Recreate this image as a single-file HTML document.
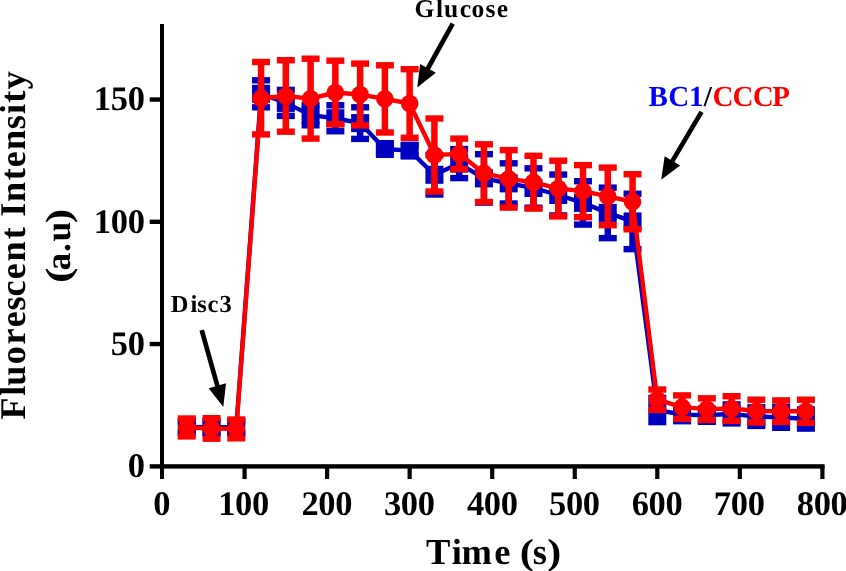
<!DOCTYPE html>
<html><head><meta charset="utf-8"><style>html,body{margin:0;padding:0;background:#fff;width:846px;height:571px;overflow:hidden}svg{display:block;will-change:transform}text{text-rendering:geometricPrecision}</style></head>
<body><svg width="846" height="571" viewBox="0 0 846 571">
<rect x="160" y="24" width="4" height="455" fill="#000"/>
<rect x="149.7" y="464.2" width="674.9" height="4.4" fill="#000"/>
<rect x="149.7" y="341.85" width="12" height="4.4" fill="#000"/>
<rect x="149.7" y="219.60" width="12" height="4.4" fill="#000"/>
<rect x="149.7" y="97.35" width="12" height="4.4" fill="#000"/>
<rect x="242.45" y="466" width="4.2" height="13" fill="#000"/>
<rect x="325.00" y="466" width="4.2" height="13" fill="#000"/>
<rect x="407.55" y="466" width="4.2" height="13" fill="#000"/>
<rect x="490.10" y="466" width="4.2" height="13" fill="#000"/>
<rect x="572.65" y="466" width="4.2" height="13" fill="#000"/>
<rect x="655.20" y="466" width="4.2" height="13" fill="#000"/>
<rect x="737.75" y="466" width="4.2" height="13" fill="#000"/>
<rect x="820.30" y="466" width="4.2" height="13" fill="#000"/>
<text x="153.18" y="515.10" font-family="Liberation Serif, serif" font-weight="bold" font-size="34.5">0</text>
<text x="218.14 235.04 251.94" y="515.10" font-family="Liberation Serif, serif" font-weight="bold" font-size="34.5">100</text>
<text x="301.38 318.28 335.18" y="515.10" font-family="Liberation Serif, serif" font-weight="bold" font-size="34.5">200</text>
<text x="383.93 400.82 417.73" y="515.10" font-family="Liberation Serif, serif" font-weight="bold" font-size="34.5">300</text>
<text x="466.91 483.81 500.71" y="515.10" font-family="Liberation Serif, serif" font-weight="bold" font-size="34.5">400</text>
<text x="549.02 565.92 582.82" y="515.10" font-family="Liberation Serif, serif" font-weight="bold" font-size="34.5">500</text>
<text x="631.66 648.56 665.46" y="515.10" font-family="Liberation Serif, serif" font-weight="bold" font-size="34.5">600</text>
<text x="713.87 730.77 747.67" y="515.10" font-family="Liberation Serif, serif" font-weight="bold" font-size="34.5">700</text>
<text x="796.76 813.66 830.56" y="515.10" font-family="Liberation Serif, serif" font-weight="bold" font-size="34.5">800</text>
<text x="127.63" y="477.05" font-family="Liberation Serif, serif" font-weight="bold" font-size="34.5">0</text>
<text x="110.73 127.63" y="354.80" font-family="Liberation Serif, serif" font-weight="bold" font-size="34.5">50</text>
<text x="93.83 110.73 127.63" y="232.55" font-family="Liberation Serif, serif" font-weight="bold" font-size="34.5">100</text>
<text x="93.83 110.73 127.63" y="110.30" font-family="Liberation Serif, serif" font-weight="bold" font-size="34.5">150</text>
<text x="425.91 451.65 461.42 494.35 532.64" y="563.50" font-family="Liberation Serif, serif" font-weight="bold" font-size="36.5" fill="#000">Times</text>
<text transform="translate(527.00,0) scale(1.160,1)" x="-6.30" y="563.50" font-family="Liberation Serif, serif" font-weight="bold" font-size="36.5" fill="#000">(</text>
<text transform="translate(553.95,0) scale(1.149,1)" x="-5.84" y="563.50" font-family="Liberation Serif, serif" font-weight="bold" font-size="36.5" fill="#000">)</text>
<text x="-419.50 -395.87 -385.81 -364.20 -344.50 -327.24 -310.60 -296.39 -279.19 -261.43 -239.14 -216.71 -202.08 -180.29 -167.29 -149.93 -129.15 -114.06 -102.84 -89.30" y="24.80" font-family="Liberation Serif, serif" font-weight="bold" font-size="36.2" fill="#000" transform="rotate(-90) translate(0,24.80) scale(1,1.0) translate(0,-24.80)">FluorescentIntensity</text>
<text x="-270.54 -252.09 -241.52" y="69.50" font-family="Liberation Serif, serif" font-weight="bold" font-size="35.5" fill="#000" transform="rotate(-90) translate(0,69.50) scale(1,1.0) translate(0,-69.50)">a.u</text>
<text transform="rotate(-90) translate(-275.10,0) scale(1.304,1)" x="-6.12" y="69.50" font-family="Liberation Serif, serif" font-weight="bold" font-size="35.5" fill="#000">(</text>
<text transform="rotate(-90) translate(-216.35,0) scale(1.224,1)" x="-5.68" y="69.50" font-family="Liberation Serif, serif" font-weight="bold" font-size="35.5" fill="#000">)</text>
<text x="414.50 435.88 444.00 459.80 471.43 485.61 496.75" y="17.30" font-family="Liberation Serif, serif" font-weight="bold" font-size="25.5" fill="#000">Glucose</text>
<text x="170.74 190.41 197.36 207.38 219.56" y="312.20" font-family="Liberation Serif, serif" font-weight="bold" font-size="24.5" fill="#000">Disc3</text>
<text x="648.50 668.27 689.07" y="105.50" font-family="Liberation Serif, serif" font-weight="bold" font-size="29" fill="#0000ff">BC1</text>
<text x="703.66" y="105.50" font-family="Liberation Serif, serif" font-weight="bold" font-size="29" fill="#000">/</text>
<text x="712.47 732.57 752.67 772.37" y="105.50" font-family="Liberation Serif, serif" font-weight="bold" font-size="29" fill="#ff0000">CCCP</text>
<line x1="452.70" y1="23.70" x2="427.00" y2="70.01" stroke="#000" stroke-width="4.7"/><polygon points="417.30,87.50 420.10,63.90 435.84,72.63" fill="#000"/>
<line x1="201.70" y1="330.10" x2="217.89" y2="387.65" stroke="#000" stroke-width="4.7"/><polygon points="223.30,406.90 208.68,388.16 226.01,383.28" fill="#000"/>
<line x1="701.50" y1="111.90" x2="671.41" y2="162.60" stroke="#000" stroke-width="4.7"/><polygon points="661.20,179.80 664.69,156.29 680.17,165.47" fill="#000"/>
<rect x="183.51" y="421.00" width="6.5" height="12.00" fill="#0000c0"/>
<rect x="177.76" y="417.80" width="18.0" height="6.4" fill="#0000c0"/>
<rect x="177.76" y="429.80" width="18.0" height="6.4" fill="#0000c0"/>
<rect x="208.28" y="421.20" width="6.5" height="12.00" fill="#0000c0"/>
<rect x="202.53" y="418.00" width="18.0" height="6.4" fill="#0000c0"/>
<rect x="202.53" y="430.00" width="18.0" height="6.4" fill="#0000c0"/>
<rect x="233.05" y="421.20" width="6.5" height="12.00" fill="#0000c0"/>
<rect x="227.30" y="418.00" width="18.0" height="6.4" fill="#0000c0"/>
<rect x="227.30" y="430.00" width="18.0" height="6.4" fill="#0000c0"/>
<rect x="257.81" y="80.30" width="6.5" height="27.00" fill="#0000c0"/>
<rect x="252.06" y="77.10" width="18.0" height="6.4" fill="#0000c0"/>
<rect x="252.06" y="104.10" width="18.0" height="6.4" fill="#0000c0"/>
<rect x="282.57" y="89.90" width="6.5" height="26.00" fill="#0000c0"/>
<rect x="276.82" y="86.70" width="18.0" height="6.4" fill="#0000c0"/>
<rect x="276.82" y="112.70" width="18.0" height="6.4" fill="#0000c0"/>
<rect x="307.34" y="105.00" width="6.5" height="20.30" fill="#0000c0"/>
<rect x="301.59" y="101.80" width="18.0" height="6.4" fill="#0000c0"/>
<rect x="301.59" y="122.10" width="18.0" height="6.4" fill="#0000c0"/>
<rect x="332.11" y="105.25" width="6.5" height="26.00" fill="#0000c0"/>
<rect x="326.36" y="102.05" width="18.0" height="6.4" fill="#0000c0"/>
<rect x="326.36" y="128.05" width="18.0" height="6.4" fill="#0000c0"/>
<rect x="356.87" y="107.30" width="6.5" height="31.60" fill="#0000c0"/>
<rect x="351.12" y="104.10" width="18.0" height="6.4" fill="#0000c0"/>
<rect x="351.12" y="135.70" width="18.0" height="6.4" fill="#0000c0"/>
<rect x="381.63" y="145.00" width="6.5" height="8.00" fill="#0000c0"/>
<rect x="375.88" y="141.80" width="18.0" height="6.4" fill="#0000c0"/>
<rect x="375.88" y="149.80" width="18.0" height="6.4" fill="#0000c0"/>
<rect x="406.40" y="145.60" width="6.5" height="10.00" fill="#0000c0"/>
<rect x="400.65" y="142.40" width="18.0" height="6.4" fill="#0000c0"/>
<rect x="400.65" y="152.40" width="18.0" height="6.4" fill="#0000c0"/>
<rect x="431.17" y="155.10" width="6.5" height="39.40" fill="#0000c0"/>
<rect x="425.42" y="151.90" width="18.0" height="6.4" fill="#0000c0"/>
<rect x="425.42" y="191.30" width="18.0" height="6.4" fill="#0000c0"/>
<rect x="455.93" y="149.10" width="6.5" height="29.00" fill="#0000c0"/>
<rect x="450.18" y="145.90" width="18.0" height="6.4" fill="#0000c0"/>
<rect x="450.18" y="174.90" width="18.0" height="6.4" fill="#0000c0"/>
<rect x="480.69" y="154.20" width="6.5" height="48.40" fill="#0000c0"/>
<rect x="474.94" y="151.00" width="18.0" height="6.4" fill="#0000c0"/>
<rect x="474.94" y="199.40" width="18.0" height="6.4" fill="#0000c0"/>
<rect x="505.46" y="163.30" width="6.5" height="40.20" fill="#0000c0"/>
<rect x="499.71" y="160.10" width="18.0" height="6.4" fill="#0000c0"/>
<rect x="499.71" y="200.30" width="18.0" height="6.4" fill="#0000c0"/>
<rect x="530.23" y="168.30" width="6.5" height="39.40" fill="#0000c0"/>
<rect x="524.48" y="165.10" width="18.0" height="6.4" fill="#0000c0"/>
<rect x="524.48" y="204.50" width="18.0" height="6.4" fill="#0000c0"/>
<rect x="554.99" y="174.55" width="6.5" height="40.90" fill="#0000c0"/>
<rect x="549.24" y="171.35" width="18.0" height="6.4" fill="#0000c0"/>
<rect x="549.24" y="212.25" width="18.0" height="6.4" fill="#0000c0"/>
<rect x="579.75" y="181.20" width="6.5" height="43.40" fill="#0000c0"/>
<rect x="574.00" y="178.00" width="18.0" height="6.4" fill="#0000c0"/>
<rect x="574.00" y="221.40" width="18.0" height="6.4" fill="#0000c0"/>
<rect x="604.52" y="187.65" width="6.5" height="50.50" fill="#0000c0"/>
<rect x="598.77" y="184.45" width="18.0" height="6.4" fill="#0000c0"/>
<rect x="598.77" y="234.95" width="18.0" height="6.4" fill="#0000c0"/>
<rect x="629.29" y="193.75" width="6.5" height="55.40" fill="#0000c0"/>
<rect x="623.54" y="190.55" width="18.0" height="6.4" fill="#0000c0"/>
<rect x="623.54" y="245.95" width="18.0" height="6.4" fill="#0000c0"/>
<rect x="654.05" y="397.90" width="6.5" height="24.20" fill="#0000c0"/>
<rect x="648.30" y="394.70" width="18.0" height="6.4" fill="#0000c0"/>
<rect x="648.30" y="418.90" width="18.0" height="6.4" fill="#0000c0"/>
<rect x="678.82" y="408.00" width="6.5" height="13.20" fill="#0000c0"/>
<rect x="673.07" y="404.80" width="18.0" height="6.4" fill="#0000c0"/>
<rect x="673.07" y="418.00" width="18.0" height="6.4" fill="#0000c0"/>
<rect x="703.58" y="408.60" width="6.5" height="13.20" fill="#0000c0"/>
<rect x="697.83" y="405.40" width="18.0" height="6.4" fill="#0000c0"/>
<rect x="697.83" y="418.60" width="18.0" height="6.4" fill="#0000c0"/>
<rect x="728.35" y="404.40" width="6.5" height="19.00" fill="#0000c0"/>
<rect x="722.60" y="401.20" width="18.0" height="6.4" fill="#0000c0"/>
<rect x="722.60" y="420.20" width="18.0" height="6.4" fill="#0000c0"/>
<rect x="753.11" y="407.30" width="6.5" height="18.60" fill="#0000c0"/>
<rect x="747.36" y="404.10" width="18.0" height="6.4" fill="#0000c0"/>
<rect x="747.36" y="422.70" width="18.0" height="6.4" fill="#0000c0"/>
<rect x="777.88" y="406.80" width="6.5" height="21.00" fill="#0000c0"/>
<rect x="772.12" y="403.60" width="18.0" height="6.4" fill="#0000c0"/>
<rect x="772.12" y="424.60" width="18.0" height="6.4" fill="#0000c0"/>
<rect x="802.64" y="409.40" width="6.5" height="19.20" fill="#0000c0"/>
<rect x="796.89" y="406.20" width="18.0" height="6.4" fill="#0000c0"/>
<rect x="796.89" y="425.40" width="18.0" height="6.4" fill="#0000c0"/>
<polyline points="186.76,427.00 211.53,427.20 236.30,427.20 261.06,93.80 285.82,102.90 310.59,115.15 335.36,118.25 360.12,123.10 384.88,149.00 409.65,150.60 434.42,174.80 459.18,163.60 483.94,178.40 508.71,183.40 533.48,188.00 558.24,195.00 583.00,202.90 607.77,212.90 632.54,221.45 657.30,410.00 682.07,414.60 706.83,415.20 731.60,413.90 756.36,416.60 781.12,417.30 805.89,419.00" fill="none" stroke="#0000c0" stroke-width="4.4" stroke-linejoin="round"/>
<rect x="177.76" y="418.00" width="18.0" height="18.0" fill="#0000c0"/>
<rect x="202.53" y="418.20" width="18.0" height="18.0" fill="#0000c0"/>
<rect x="227.30" y="418.20" width="18.0" height="18.0" fill="#0000c0"/>
<rect x="252.06" y="84.80" width="18.0" height="18.0" fill="#0000c0"/>
<rect x="276.82" y="93.90" width="18.0" height="18.0" fill="#0000c0"/>
<rect x="301.59" y="106.15" width="18.0" height="18.0" fill="#0000c0"/>
<rect x="326.36" y="109.25" width="18.0" height="18.0" fill="#0000c0"/>
<rect x="351.12" y="114.10" width="18.0" height="18.0" fill="#0000c0"/>
<rect x="375.88" y="140.00" width="18.0" height="18.0" fill="#0000c0"/>
<rect x="400.65" y="141.60" width="18.0" height="18.0" fill="#0000c0"/>
<rect x="425.42" y="165.80" width="18.0" height="18.0" fill="#0000c0"/>
<rect x="450.18" y="154.60" width="18.0" height="18.0" fill="#0000c0"/>
<rect x="474.94" y="169.40" width="18.0" height="18.0" fill="#0000c0"/>
<rect x="499.71" y="174.40" width="18.0" height="18.0" fill="#0000c0"/>
<rect x="524.48" y="179.00" width="18.0" height="18.0" fill="#0000c0"/>
<rect x="549.24" y="186.00" width="18.0" height="18.0" fill="#0000c0"/>
<rect x="574.00" y="193.90" width="18.0" height="18.0" fill="#0000c0"/>
<rect x="598.77" y="203.90" width="18.0" height="18.0" fill="#0000c0"/>
<rect x="623.54" y="212.45" width="18.0" height="18.0" fill="#0000c0"/>
<rect x="648.30" y="401.00" width="18.0" height="18.0" fill="#0000c0"/>
<rect x="673.07" y="405.60" width="18.0" height="18.0" fill="#0000c0"/>
<rect x="697.83" y="406.20" width="18.0" height="18.0" fill="#0000c0"/>
<rect x="722.60" y="404.90" width="18.0" height="18.0" fill="#0000c0"/>
<rect x="747.36" y="407.60" width="18.0" height="18.0" fill="#0000c0"/>
<rect x="772.12" y="408.30" width="18.0" height="18.0" fill="#0000c0"/>
<rect x="796.89" y="410.00" width="18.0" height="18.0" fill="#0000c0"/>
<rect x="183.51" y="418.50" width="6.5" height="17.90" fill="#ff0000"/>
<rect x="177.76" y="415.30" width="18.0" height="6.4" fill="#ff0000"/>
<rect x="177.76" y="433.20" width="18.0" height="6.4" fill="#ff0000"/>
<rect x="208.28" y="418.20" width="6.5" height="20.50" fill="#ff0000"/>
<rect x="202.53" y="415.00" width="18.0" height="6.4" fill="#ff0000"/>
<rect x="202.53" y="435.50" width="18.0" height="6.4" fill="#ff0000"/>
<rect x="233.05" y="419.50" width="6.5" height="18.80" fill="#ff0000"/>
<rect x="227.30" y="416.30" width="18.0" height="6.4" fill="#ff0000"/>
<rect x="227.30" y="435.10" width="18.0" height="6.4" fill="#ff0000"/>
<rect x="257.81" y="62.00" width="6.5" height="72.40" fill="#ff0000"/>
<rect x="252.06" y="58.80" width="18.0" height="6.4" fill="#ff0000"/>
<rect x="252.06" y="131.20" width="18.0" height="6.4" fill="#ff0000"/>
<rect x="282.57" y="60.20" width="6.5" height="71.50" fill="#ff0000"/>
<rect x="276.82" y="57.00" width="18.0" height="6.4" fill="#ff0000"/>
<rect x="276.82" y="128.50" width="18.0" height="6.4" fill="#ff0000"/>
<rect x="307.34" y="58.70" width="6.5" height="79.90" fill="#ff0000"/>
<rect x="301.59" y="55.50" width="18.0" height="6.4" fill="#ff0000"/>
<rect x="301.59" y="135.40" width="18.0" height="6.4" fill="#ff0000"/>
<rect x="332.11" y="60.70" width="6.5" height="63.60" fill="#ff0000"/>
<rect x="326.36" y="57.50" width="18.0" height="6.4" fill="#ff0000"/>
<rect x="326.36" y="121.10" width="18.0" height="6.4" fill="#ff0000"/>
<rect x="356.87" y="63.60" width="6.5" height="61.80" fill="#ff0000"/>
<rect x="351.12" y="60.40" width="18.0" height="6.4" fill="#ff0000"/>
<rect x="351.12" y="122.20" width="18.0" height="6.4" fill="#ff0000"/>
<rect x="381.63" y="65.30" width="6.5" height="67.20" fill="#ff0000"/>
<rect x="375.88" y="62.10" width="18.0" height="6.4" fill="#ff0000"/>
<rect x="375.88" y="129.30" width="18.0" height="6.4" fill="#ff0000"/>
<rect x="406.40" y="69.20" width="6.5" height="68.60" fill="#ff0000"/>
<rect x="400.65" y="66.00" width="18.0" height="6.4" fill="#ff0000"/>
<rect x="400.65" y="134.60" width="18.0" height="6.4" fill="#ff0000"/>
<rect x="431.17" y="118.50" width="6.5" height="73.00" fill="#ff0000"/>
<rect x="425.42" y="115.30" width="18.0" height="6.4" fill="#ff0000"/>
<rect x="425.42" y="188.30" width="18.0" height="6.4" fill="#ff0000"/>
<rect x="455.93" y="138.60" width="6.5" height="30.50" fill="#ff0000"/>
<rect x="450.18" y="135.40" width="18.0" height="6.4" fill="#ff0000"/>
<rect x="450.18" y="165.90" width="18.0" height="6.4" fill="#ff0000"/>
<rect x="480.69" y="144.30" width="6.5" height="57.70" fill="#ff0000"/>
<rect x="474.94" y="141.10" width="18.0" height="6.4" fill="#ff0000"/>
<rect x="474.94" y="198.80" width="18.0" height="6.4" fill="#ff0000"/>
<rect x="505.46" y="150.10" width="6.5" height="57.50" fill="#ff0000"/>
<rect x="499.71" y="146.90" width="18.0" height="6.4" fill="#ff0000"/>
<rect x="499.71" y="204.40" width="18.0" height="6.4" fill="#ff0000"/>
<rect x="530.23" y="155.80" width="6.5" height="52.80" fill="#ff0000"/>
<rect x="524.48" y="152.60" width="18.0" height="6.4" fill="#ff0000"/>
<rect x="524.48" y="205.40" width="18.0" height="6.4" fill="#ff0000"/>
<rect x="554.99" y="160.70" width="6.5" height="55.70" fill="#ff0000"/>
<rect x="549.24" y="157.50" width="18.0" height="6.4" fill="#ff0000"/>
<rect x="549.24" y="213.20" width="18.0" height="6.4" fill="#ff0000"/>
<rect x="579.75" y="165.10" width="6.5" height="52.10" fill="#ff0000"/>
<rect x="574.00" y="161.90" width="18.0" height="6.4" fill="#ff0000"/>
<rect x="574.00" y="214.00" width="18.0" height="6.4" fill="#ff0000"/>
<rect x="604.52" y="167.60" width="6.5" height="57.60" fill="#ff0000"/>
<rect x="598.77" y="164.40" width="18.0" height="6.4" fill="#ff0000"/>
<rect x="598.77" y="222.00" width="18.0" height="6.4" fill="#ff0000"/>
<rect x="629.29" y="174.20" width="6.5" height="55.10" fill="#ff0000"/>
<rect x="623.54" y="171.00" width="18.0" height="6.4" fill="#ff0000"/>
<rect x="623.54" y="226.10" width="18.0" height="6.4" fill="#ff0000"/>
<rect x="654.05" y="389.50" width="6.5" height="20.40" fill="#ff0000"/>
<rect x="648.30" y="386.30" width="18.0" height="6.4" fill="#ff0000"/>
<rect x="648.30" y="406.70" width="18.0" height="6.4" fill="#ff0000"/>
<rect x="678.82" y="395.40" width="6.5" height="23.40" fill="#ff0000"/>
<rect x="673.07" y="392.20" width="18.0" height="6.4" fill="#ff0000"/>
<rect x="673.07" y="415.60" width="18.0" height="6.4" fill="#ff0000"/>
<rect x="703.58" y="398.30" width="6.5" height="21.60" fill="#ff0000"/>
<rect x="697.83" y="395.10" width="18.0" height="6.4" fill="#ff0000"/>
<rect x="697.83" y="416.70" width="18.0" height="6.4" fill="#ff0000"/>
<rect x="728.35" y="396.20" width="6.5" height="24.70" fill="#ff0000"/>
<rect x="722.60" y="393.00" width="18.0" height="6.4" fill="#ff0000"/>
<rect x="722.60" y="417.70" width="18.0" height="6.4" fill="#ff0000"/>
<rect x="753.11" y="399.70" width="6.5" height="22.70" fill="#ff0000"/>
<rect x="747.36" y="396.50" width="18.0" height="6.4" fill="#ff0000"/>
<rect x="747.36" y="419.20" width="18.0" height="6.4" fill="#ff0000"/>
<rect x="777.88" y="400.40" width="6.5" height="21.60" fill="#ff0000"/>
<rect x="772.12" y="397.20" width="18.0" height="6.4" fill="#ff0000"/>
<rect x="772.12" y="418.80" width="18.0" height="6.4" fill="#ff0000"/>
<rect x="802.64" y="399.70" width="6.5" height="23.10" fill="#ff0000"/>
<rect x="796.89" y="396.50" width="18.0" height="6.4" fill="#ff0000"/>
<rect x="796.89" y="419.60" width="18.0" height="6.4" fill="#ff0000"/>
<polyline points="186.76,427.45 211.53,428.45 236.30,428.90 261.06,98.20 285.82,95.95 310.59,98.65 335.36,92.50 360.12,94.50 384.88,98.90 409.65,103.50 434.42,155.00 459.18,153.85 483.94,173.15 508.71,178.85 533.48,182.20 558.24,188.55 583.00,191.15 607.77,196.40 632.54,201.75 657.30,399.70 682.07,407.10 706.83,409.10 731.60,408.55 756.36,411.05 781.12,411.20 805.89,411.25" fill="none" stroke="#ff0000" stroke-width="4.4" stroke-linejoin="round"/>
<circle cx="186.76" cy="427.45" r="8.8" fill="#ff0000"/>
<circle cx="211.53" cy="428.45" r="8.8" fill="#ff0000"/>
<circle cx="236.30" cy="428.90" r="8.8" fill="#ff0000"/>
<circle cx="261.06" cy="98.20" r="8.8" fill="#ff0000"/>
<circle cx="285.82" cy="95.95" r="8.8" fill="#ff0000"/>
<circle cx="310.59" cy="98.65" r="8.8" fill="#ff0000"/>
<circle cx="335.36" cy="92.50" r="8.8" fill="#ff0000"/>
<circle cx="360.12" cy="94.50" r="8.8" fill="#ff0000"/>
<circle cx="384.88" cy="98.90" r="8.8" fill="#ff0000"/>
<circle cx="409.65" cy="103.50" r="8.8" fill="#ff0000"/>
<circle cx="434.42" cy="155.00" r="8.8" fill="#ff0000"/>
<circle cx="459.18" cy="153.85" r="8.8" fill="#ff0000"/>
<circle cx="483.94" cy="173.15" r="8.8" fill="#ff0000"/>
<circle cx="508.71" cy="178.85" r="8.8" fill="#ff0000"/>
<circle cx="533.48" cy="182.20" r="8.8" fill="#ff0000"/>
<circle cx="558.24" cy="188.55" r="8.8" fill="#ff0000"/>
<circle cx="583.00" cy="191.15" r="8.8" fill="#ff0000"/>
<circle cx="607.77" cy="196.40" r="8.8" fill="#ff0000"/>
<circle cx="632.54" cy="201.75" r="8.8" fill="#ff0000"/>
<circle cx="657.30" cy="399.70" r="8.8" fill="#ff0000"/>
<circle cx="682.07" cy="407.10" r="8.8" fill="#ff0000"/>
<circle cx="706.83" cy="409.10" r="8.8" fill="#ff0000"/>
<circle cx="731.60" cy="408.55" r="8.8" fill="#ff0000"/>
<circle cx="756.36" cy="411.05" r="8.8" fill="#ff0000"/>
<circle cx="781.12" cy="411.20" r="8.8" fill="#ff0000"/>
<circle cx="805.89" cy="411.25" r="8.8" fill="#ff0000"/>
</svg></body></html>
